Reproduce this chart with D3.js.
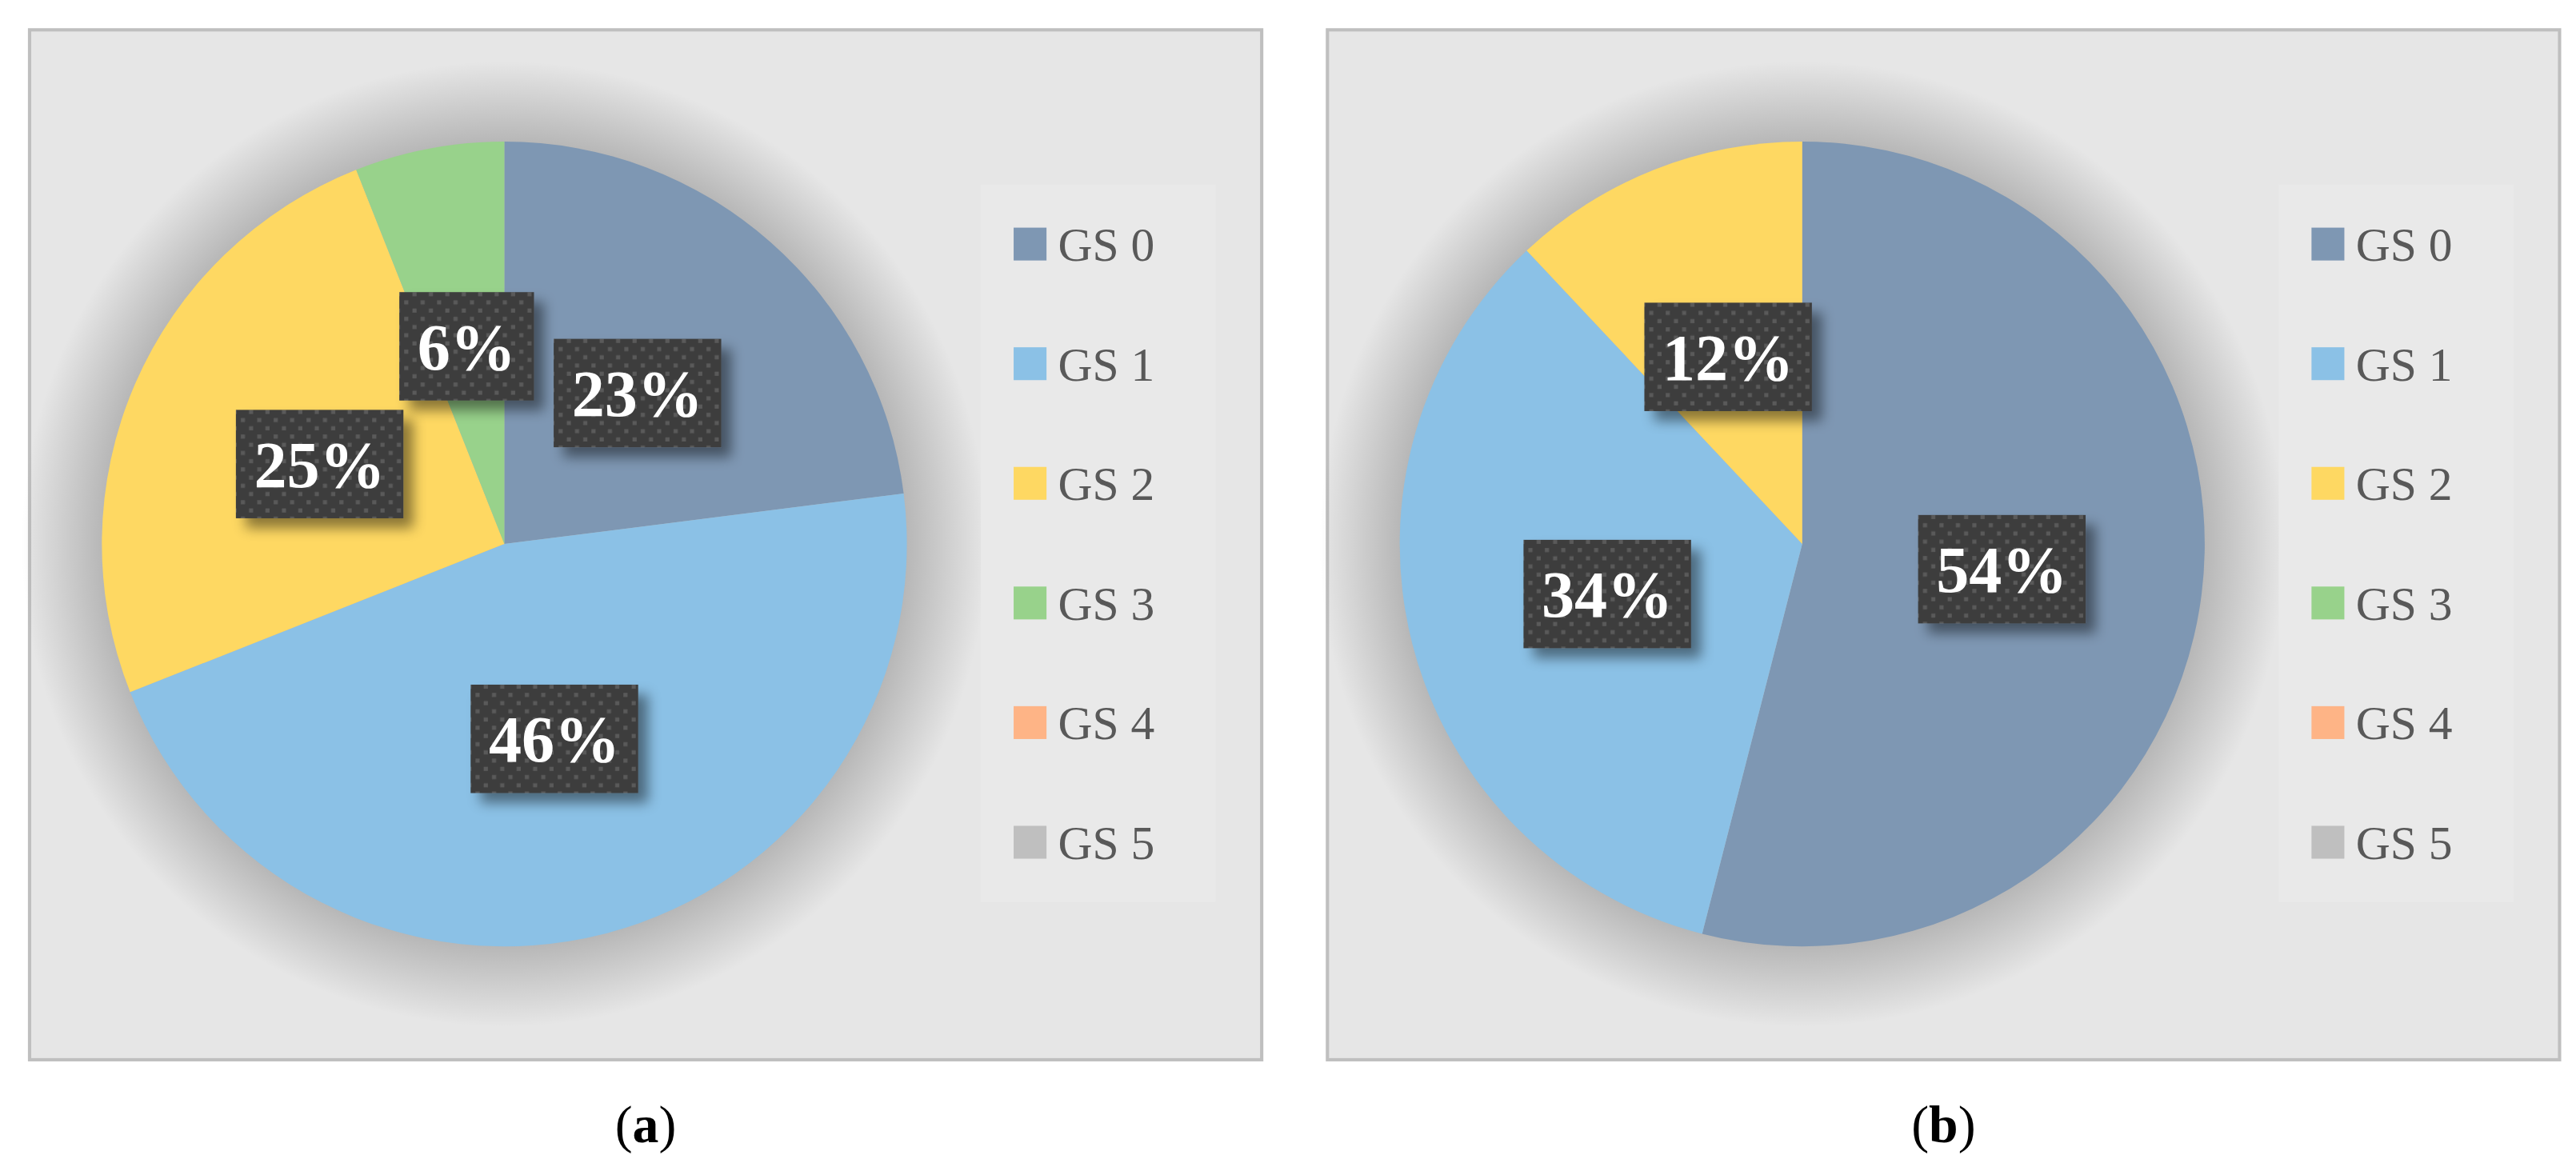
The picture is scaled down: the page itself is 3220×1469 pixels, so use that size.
<!DOCTYPE html>
<html>
<head>
<meta charset="utf-8">
<script src="https://cdn.jsdelivr.net/npm/d3@7"></script>
<style>
  body { margin: 0; background: #fff; }
  text { font-family: "Liberation Serif", "DejaVu Serif", serif; }
</style>
</head>
<body>
<svg id="chart" width="3220" height="1469" viewBox="0 0 1568 715"></svg>
<script>
// categories en waarden
var categories = ["GS 0", "GS 1", "GS 2", "GS 3", "GS 4", "GS 5"];
var colors = ["#7e97b3", "#8bc1e6", "#fed862", "#98d28b", "#feb486", "#bfbfbf"];
var valuesA = [23, 46, 25, 6, 0, 0];
var valuesB = [54, 34, 12, 0, 0, 0];
var captions = ["a", "b"];

var svg = d3.select("#chart");
var defs = svg.append("defs");

// schaduw voor de pie
var halo = defs.append("radialGradient").attr("id", "halo");
halo.append("stop").attr("offset", "0.82").attr("stop-color", "#000").attr("stop-opacity", 0.22);
halo.append("stop").attr("offset", "1").attr("stop-color", "#000").attr("stop-opacity", 0);

// schaduw voor de labels
var f = defs.append("filter").attr("id", "shadow").attr("x", "-30%").attr("y", "-30%").attr("width", "170%").attr("height", "170%");
f.append("feDropShadow").attr("dx", 6).attr("dy", 6).attr("stdDeviation", 4)
  .attr("flood-color", "#000").attr("flood-opacity", 0.45);

// stippenpatroon van de labels
var pat = defs.append("pattern").attr("id", "dots").attr("patternUnits", "userSpaceOnUse")
  .attr("width", 10).attr("height", 10);
pat.append("rect").attr("width", 10).attr("height", 10).attr("fill", "#3d3d3d");
pat.append("rect").attr("x", 2).attr("y", 2).attr("width", 2.5).attr("height", 2.5).attr("fill", "#5a5a5a");
pat.append("rect").attr("x", 7).attr("y", 7).attr("width", 2.5).attr("height", 2.5).attr("fill", "#5a5a5a");

var panelW = 750, panelH = 627, radius = 245;
var pie = d3.pie().sort(null).value(function (d) { return d; });
var arc = d3.arc().innerRadius(0).outerRadius(radius);
var labelArc = d3.arc().innerRadius(radius * 0.5).outerRadius(radius * 0.5);

var legendY = d3.scaleBand().domain(categories).range([112, 549]);

function drawPanel(values, caption, x0) {
  var g = svg.append("g").attr("transform", "translate(" + x0 + ",18)");

  g.append("rect")
    .attr("width", panelW).attr("height", panelH)
    .attr("fill", "#e6e6e6").attr("stroke", "#bfbfbf").attr("stroke-width", 2);

  var cx = 289, cy = 313;
  var p = g.append("g").attr("transform", "translate(" + cx + "," + cy + ")");

  p.append("circle").attr("r", radius * 1.2).attr("fill", "url(#halo)");

  var arcs = pie(values);
  p.selectAll("path").data(arcs).enter().append("path")
    .attr("d", arc)
    .attr("fill", function (d, i) { return colors[i]; });

  var labels = p.selectAll(".lbl").data(arcs.filter(function (d) { return d.data > 0; }))
    .enter().append("g").attr("class", "lbl")
    .attr("transform", function (d) { return "translate(" + labelArc.centroid(d) + ")"; });

  labels.each(function (d) {
    var l = d3.select(this);
    var t = l.append("text")
      .attr("text-anchor", "middle").attr("dy", "0.35em")
      .attr("fill", "#fff").attr("font-weight", "bold").attr("font-size", 40)
      .text(d.data + "%");
    var bb = t.node().getBBox();
    var w = bb.width + 22, h = 66;
    l.insert("rect", "text")
      .attr("x", -w / 2).attr("y", -h / 2).attr("width", w).attr("height", h)
      .attr("fill", "url(#dots)").attr("filter", "url(#shadow)");
  });

  // legenda
  var lg = g.append("g");
  lg.append("rect").attr("x", 579).attr("y", 94).attr("width", 143).attr("height", 437)
    .attr("fill", "#e9e9e9");
  var items = lg.selectAll(".item").data(categories).enter().append("g")
    .attr("transform", function (d) { return "translate(599," + (legendY(d) + legendY.bandwidth() / 2 - 18) + ")"; });
  items.append("rect").attr("x", 0).attr("y", -10).attr("width", 20).attr("height", 20)
    .attr("fill", function (d, i) { return colors[i]; });
  items.append("text").attr("x", 27).attr("dy", "0.35em")
    .attr("font-size", 29).attr("fill", "#595959").text(function (d) { return d; });

  // onderschrift
  var c = svg.append("text").attr("x", x0 + 375).attr("y", 695)
    .attr("text-anchor", "middle").attr("font-size", 32).attr("fill", "#000");
  c.append("tspan").text("(");
  c.append("tspan").attr("font-weight", "bold").text(caption);
  c.append("tspan").text(")");
}

drawPanel(valuesA, captions[0], 18);
drawPanel(valuesB, captions[1], 808);
</script>
</body>
</html>
